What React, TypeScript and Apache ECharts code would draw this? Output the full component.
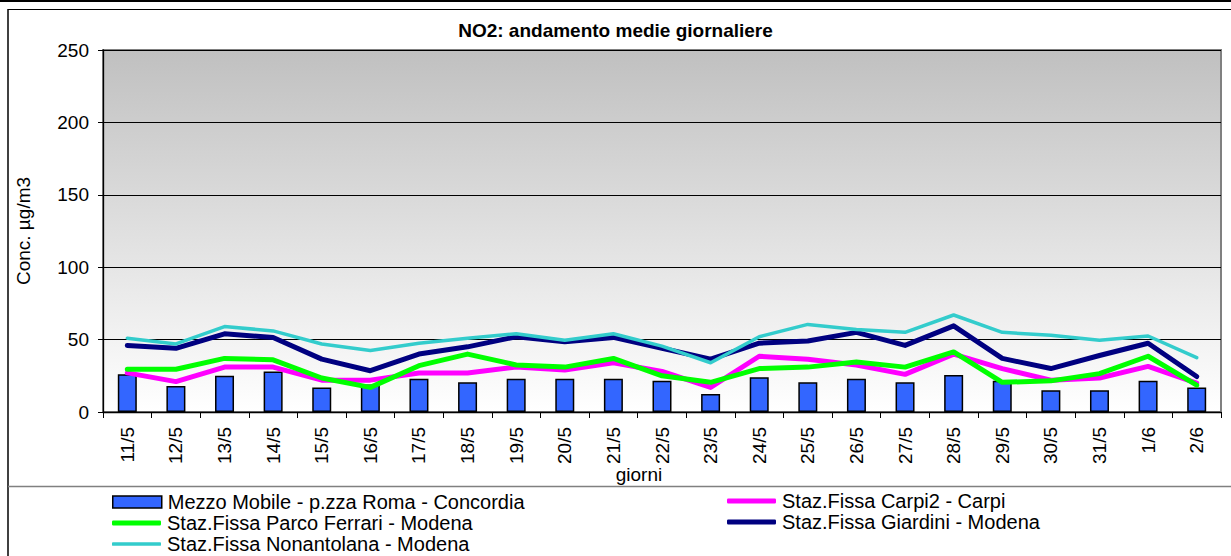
import React, { useEffect, useRef } from "react";
import * as echarts from "echarts";

const categories = ["11/5","12/5","13/5","14/5","15/5","16/5","17/5","18/5","19/5","20/5","21/5","22/5","23/5","24/5","25/5","26/5","27/5","28/5","29/5","30/5","31/5","1/6","2/6"];
const mezzoMobile = [26, 18, 25, 28, 17, 19, 23, 20.5, 23, 23, 23, 21.5, 12.5, 24, 20.5, 23, 20.5, 25.5, 21.5, 15, 15, 21.5, 17];
const carpi2 = [27, 21, 31, 31, 22, 22, 27, 27, 31, 29, 34, 28, 17, 38.5, 36.5, 32.5, 26, 40, 30, 22, 23.5, 31.5, 20];
const parcoFerrari = [29.5, 29.5, 37, 36, 23.5, 17, 32, 40, 32.5, 31, 37, 25, 20.5, 30, 31, 34.5, 31, 41.5, 20.5, 21.5, 26.5, 38.5, 18.5];
const giardini = [46, 44, 54, 51.5, 36.5, 28.5, 40, 45, 52, 48.5, 51.5, 44, 36.5, 47.5, 49, 55, 46, 59.5, 37, 30, 39, 47.5, 24.5];
const nonantolana = [51, 47, 59, 56, 47, 42.5, 47.5, 51, 54, 49.5, 54, 45.5, 34, 52, 60.5, 57, 55, 67, 55, 53, 49.5, 52.5, 37.5];
const yTicks = { min: 0, max: 250, interval: 50 };

const names = {
  mezzo: "Mezzo Mobile - p.zza Roma - Concordia",
  carpi: "Staz.Fissa Carpi2 - Carpi",
  parco: "Staz.Fissa Parco Ferrari - Modena",
  giardini: "Staz.Fissa Giardini - Modena",
  nonant: "Staz.Fissa Nonantolana - Modena",
};

const FONT = "'Liberation Sans', Arial, sans-serif";

export default function App() {
  const ref = useRef<HTMLDivElement>(null);
  useEffect(() => {
    if (!ref.current) return;
    const chart = echarts.init(ref.current, null, { renderer: "svg" });
    const lineSeries = (name: string, data: number[], color: string, width: number) => ({
      name,
      type: "line",
      data,
      symbol: "none",
      showSymbol: false,
      lineStyle: { color, width, cap: "round", join: "round" },
      itemStyle: { color },
      z: 3,
    });
    const legendItem = (
      name: string,
      left: number,
      centerY: number,
      itemHeight: number,
      icon: string,
      itemStyle: any
    ) => ({
      orient: "horizontal",
      left,
      top: centerY - 11,
      padding: 0,
      itemWidth: 49,
      itemHeight,
      itemGap: 0,
      selectedMode: false,
      icon,
      textStyle: { fontFamily: FONT, fontSize: 20, color: "#000", padding: [0, 0, 0, 1], lineHeight: 22 },
      data: [{ name, icon, itemStyle, lineStyle: { width: 0, opacity: 0 } }],
    });
    chart.setOption({
      animation: false,
      backgroundColor: "#ffffff",
      title: {
        text: "NO2: andamento medie giornaliere",
        left: "center",
        top: 16,
        textStyle: { fontFamily: FONT, fontSize: 19, fontWeight: "bold", color: "#000" },
      },
      grid: {
        left: 103,
        right: 10,
        top: 50,
        bottom: 144,
        show: true,
        borderColor: "#808080",
        borderWidth: 2,
        backgroundColor: new echarts.graphic.LinearGradient(0, 0, 0, 1, [
          { offset: 0, color: "#c0c0c0" },
          { offset: 1, color: "#ffffff" },
        ]),
      },
      legend: [
        legendItem(names.mezzo, 112, 502, 12, "rect", { color: "#3366ff", borderColor: "#000", borderWidth: 1.5 }),
        legendItem(names.parco, 112, 523, 5, "roundRect", { color: "#00ff00", borderWidth: 0 }),
        legendItem(names.nonant, 112, 544, 3.5, "roundRect", { color: "#33cccc", borderWidth: 0 }),
        legendItem(names.carpi, 727, 501, 5, "roundRect", { color: "#ff00ff", borderWidth: 0 }),
        legendItem(names.giardini, 727, 522, 5, "roundRect", { color: "#000080", borderWidth: 0 }),
      ],
      xAxis: {
        type: "category",
        data: categories,
        boundaryGap: true,
        axisLine: { show: true, lineStyle: { color: "#000", width: 1.3 } },
        axisTick: { show: true, length: 6, interval: 0, lineStyle: { color: "#000" } },
        axisLabel: {
          interval: 0,
          rotate: 90,
          margin: 15,
          fontFamily: FONT,
          fontSize: 19,
          color: "#000",
        },
        splitLine: { show: false },
      },
      yAxis: {
        type: "value",
        min: yTicks.min,
        max: yTicks.max,
        interval: yTicks.interval,
        name: "Conc. µg/m3",
        nameLocation: "middle",
        nameGap: 70,
        nameTextStyle: { fontFamily: FONT, fontSize: 19, color: "#000" },
        axisLine: { show: true, lineStyle: { color: "#000", width: 1.3 } },
        axisTick: { show: true, length: 5, lineStyle: { color: "#000" } },
        axisLabel: { fontFamily: FONT, fontSize: 19, color: "#000", margin: 14 },
        splitLine: { show: true, lineStyle: { color: "#000", width: 1 } },
      },
      graphic: [
        { type: "line", shape: { x1: 0, y1: 1, x2: 1231, y2: 1 }, style: { stroke: "#000", lineWidth: 2 }, silent: true },
        { type: "line", shape: { x1: 8, y1: 9.5, x2: 1231, y2: 9.5 }, style: { stroke: "#000", lineWidth: 1 }, silent: true },
        { type: "line", shape: { x1: 8, y1: 9, x2: 8, y2: 556 }, style: { stroke: "#000", lineWidth: 1.5 }, silent: true },
        { type: "line", shape: { x1: 8, y1: 486.5, x2: 1231, y2: 486.5 }, style: { stroke: "#808080", lineWidth: 1.5 }, silent: true },
        {
          type: "text",
          x: 639,
          y: 474,
          style: { text: "giorni", fontFamily: FONT, fontSize: 19, fill: "#000", align: "center", verticalAlign: "middle" },
          silent: true,
        },
      ],
      series: [
        {
          name: names.mezzo,
          type: "bar",
          data: mezzoMobile,
          barWidth: 19,
          itemStyle: { color: "#3366ff", borderColor: "#000", borderWidth: 1.5 },
          z: 2,
        },
        lineSeries(names.carpi, carpi2, "#ff00ff", 5),
        lineSeries(names.parco, parcoFerrari, "#00ff00", 5),
        lineSeries(names.giardini, giardini, "#000080", 5),
        lineSeries(names.nonant, nonantolana, "#33cccc", 3.5),
      ],
    });
    return () => chart.dispose();
  }, []);
  return <div ref={ref} style={{ position: "absolute", left: 0, top: 0, width: 1231, height: 556 }} />;
}
